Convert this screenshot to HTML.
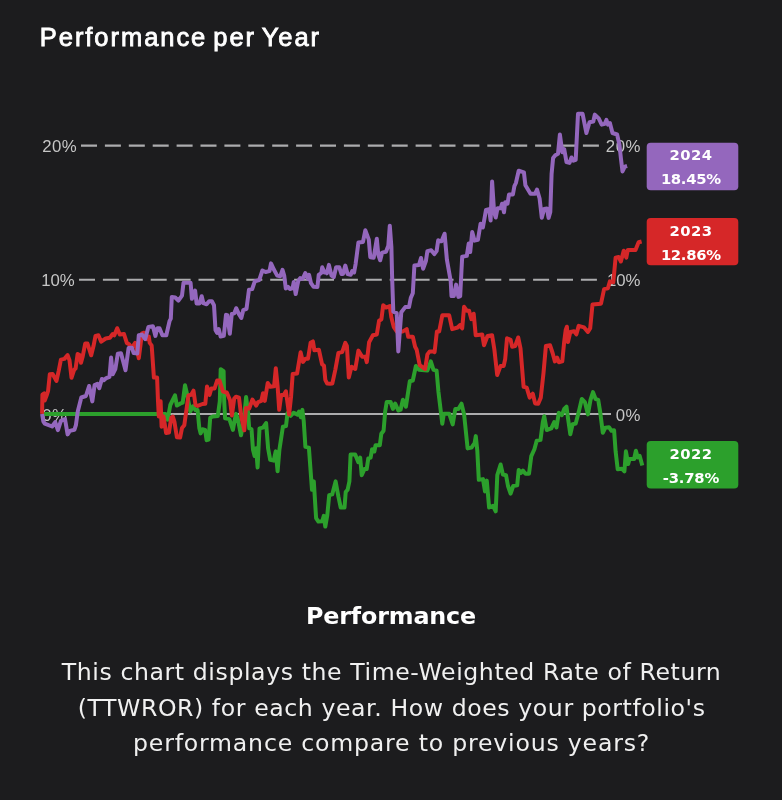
<!DOCTYPE html>
<html><head><meta charset="utf-8">
<style>
html,body{margin:0;padding:0;background:#1c1c1e;}
body{width:782px;height:800px;overflow:hidden;position:relative;font-family:"Liberation Sans",sans-serif;color:#fff;}
#title{position:absolute;left:39.8px;top:22px;font-size:25.5px;line-height:30px;font-weight:normal;-webkit-text-stroke:0.85px #fff;letter-spacing:1.95px;word-spacing:-2.9px;white-space:nowrap;}
#chart{position:absolute;left:0;top:0;}
#h2{position:absolute;left:0;width:782px;top:601.4px;text-align:center;font-size:23.8px;line-height:30px;font-weight:bold;font-family:"DejaVu Sans","Liberation Sans",sans-serif;letter-spacing:-0.15px;}
#desc{position:absolute;left:0.6px;width:782px;top:653.9px;text-align:center;font-size:23.6px;line-height:35.5px;color:#f0f0f0;letter-spacing:0.33px;font-family:"DejaVu Sans","Liberation Sans",sans-serif;}
#desc div{position:absolute;left:0;width:782px;white-space:nowrap;}
</style></head><body>
<svg id="chart" width="782" height="800" viewBox="0 0 782 800" font-family="Liberation Sans, sans-serif">
<g stroke="#acacae" stroke-width="2.1" fill="none">
<line x1="81" y1="145.6" x2="601" y2="145.6" stroke-dasharray="16 7.9"/>
<line x1="79" y1="279.8" x2="601" y2="279.8" stroke-dasharray="16 7.9"/>
<line x1="42" y1="414" x2="611" y2="414" stroke-width="2"/>
</g>
<g fill="#c6c6c6" font-size="16.8" letter-spacing="0.45">
<text x="42.3" y="152">20%</text>
<text x="41.3" y="286.2" letter-spacing="-0.1">10%</text>
<text x="42.3" y="420.5">0%</text>
<g text-anchor="end">
<text x="640.8" y="152">20%</text>
<text x="640.4" y="286.2" letter-spacing="-0.1">10%</text>
<text x="640.8" y="420.5">0%</text>
</g>
</g>
<!--LINES--><g fill="none" stroke-width="4" stroke-linejoin="round" stroke-linecap="butt">
<path stroke="#2ca02c" d="M42,414 L157.1,413.9 L165.4,413.9 L167.7,419.7 L170.3,405 L175,395.4 L176.9,405.6 L180.1,403.7 L182.7,402.7 L185,385.2 L187.2,394.8 L190.3,411.4 L192.9,406.3 L195.5,410.1 L197.6,410.1 L199.3,428 L200.6,433.4 L202.5,429.3 L205.1,429.9 L206.6,440.2 L208.6,439.5 L210.2,417.8 L212.7,416.5 L217.8,415.9 L219.8,401.2 L220.7,369.2 L223.6,371.1 L224.2,401.2 L225.1,418.4 L229.4,419.1 L232.9,429.9 L235.1,417.8 L236,413.9 L237.7,418.4 L241,435.3 L243.8,420.7 L246.1,396.9 L248.1,413 L249.2,428.4 L251.5,429.1 L253,449.8 L254.6,456 L256.1,448.3 L257.6,467.5 L259.5,428.4 L263,427.6 L266.1,423 L268.1,448.3 L270.2,459.8 L273.7,460.6 L275.7,451.4 L277.6,471.3 L279.4,449.8 L282.9,426.8 L286,426.1 L287.5,413 L290.6,415.8 L293.7,412.7 L297.5,414.6 L299.1,411.5 L300.9,417.3 L302.4,409.9 L303.7,420.7 L305.4,446.9 L308.9,447.6 L312,489.8 L313.8,481.4 L316.1,518.2 L318.4,521.6 L322.2,521.3 L323.8,515.9 L325.3,526.6 L327.3,515.1 L329.2,495.2 L332.2,494.4 L335.6,481.4 L338.4,496.7 L340.7,507.5 L344.5,507.5 L345.7,492.1 L347.6,489.8 L349.4,481.4 L350.6,454.5 L355.2,454.5 L358.3,462.2 L360.2,457.6 L361.7,475.2 L364.4,469.1 L366.7,469.1 L368.3,458.4 L370.6,457.6 L372.1,449.2 L374.4,451.5 L375.5,445.3 L379.8,445.3 L381.3,433.8 L383.6,430.7 L385.2,411.2 L386.7,402 L390.6,402 L392.9,408.9 L395.2,403.5 L398.3,410.5 L400.6,409.7 L402.9,399.7 L405.9,406.6 L409.8,381.3 L412.8,380.5 L415.9,366 L419,369.8 L427.4,370.6 L430.8,361.4 L433.5,369.8 L436.6,370.6 L438.4,391.4 L442.3,423.7 L443.8,413.7 L449.2,413.7 L452.7,424.4 L455.3,409.1 L458.4,409.1 L461.5,403.7 L464.1,414.4 L467.6,448.4 L471.5,447.6 L474.6,443 L475.8,436.1 L477.3,450.7 L478.8,479.8 L483,479.1 L485,491.4 L486.8,480.6 L489.1,507.5 L493,505.9 L495.7,511.3 L497.3,475.2 L500.6,464.5 L502.9,474.5 L506,475.2 L508,486 L510.6,493.7 L513.2,486 L517.2,485.2 L518.7,469.9 L520.9,472.9 L522.9,470.6 L525.5,473.7 L529,473.7 L531.3,456.1 L534.4,449.2 L536.7,440.7 L540.5,439.9 L542.8,422.3 L544.2,416.2 L546.7,430 L551.3,428.4 L554.2,422 L556.5,427.4 L558.8,412.8 L561.9,415.1 L564.2,409 L566.5,406.7 L568,418.2 L570.3,434.3 L572.6,424.3 L575.7,423.6 L578.7,412.1 L581.8,399 L584.9,402.1 L587.9,414.4 L590.5,399.8 L593,392.1 L595.6,399 L598.2,399.8 L600.2,412.1 L602.8,432.8 L605.4,427.7 L609,427.2 L611.5,430.8 L614.1,430.3 L615.6,451.3 L617.7,469.2 L621.8,468.7 L624.4,471.3 L625.9,451.3 L628.2,464.1 L629.5,459 L634.1,459 L635.9,450.8 L637.7,457.4 L639.7,455.9 L642.3,465.6"/>
<path stroke="#d62728" d="M42.1,413.9 L42.4,394.7 L44.2,393.4 L44.7,400.5 L46.9,394.7 L48.1,390.9 L49.8,374.3 L52.6,374 L56.5,380.9 L58.8,370.4 L60.9,359.6 L64.4,358.9 L67.6,355.1 L69.5,360.2 L71.5,377.8 L74.1,369.8 L75.6,368.5 L77.6,354.1 L79.5,355.1 L81,362.8 L82.7,356.4 L85.2,343.6 L87.5,343.6 L91.2,355.3 L93.5,346.1 L95.5,335.9 L98.4,335.3 L101.2,341.7 L105.7,338.5 L109.9,337.8 L112.7,334 L114.3,335.3 L117.2,328.2 L119.8,334.6 L124,334 L126.8,342.9 L129.1,344.2 L131.7,348.1 L135.1,342.9 L138.8,358.2 L142,333.3 L143.9,332.7 L146.5,339.1 L148.8,336.5 L149.7,342.9 L151.6,345.4 L152,350 L153.9,377.5 L157.1,377.5 L158,401.2 L158.8,416.5 L160.6,401.2 L161.6,426.7 L163.5,416.5 L166.1,432.9 L169,432.5 L171.2,417.8 L172.8,416.5 L174.4,421.6 L176.9,437.2 L180.1,437.6 L182,428 L184.3,425.2 L188.4,395.4 L191.2,394.8 L193.5,390.7 L195.5,405 L197.6,405.9 L202.5,404 L205.3,403.7 L207,386.4 L209.5,395 L211.4,388.4 L214.6,388.4 L217.2,380.4 L219.4,380.4 L223,391.6 L226.8,392.5 L230,400.1 L231.9,415.5 L234.2,398.6 L236,396.7 L239,397.7 L241.3,416.8 L244.3,430.3 L246,407.9 L249.2,408.5 L252.4,399.6 L256.2,405.6 L258.1,402.1 L261.3,400.9 L263,393.2 L264.8,400.9 L267.7,383 L270.3,386.8 L274.1,386.2 L275.8,368.2 L277.6,386.2 L279.2,409.8 L281.2,395.1 L283.7,395.1 L285.9,391.3 L289.1,414.5 L291.1,396.4 L292.7,374 L297.1,373.4 L300.6,352.3 L302.9,361.9 L305.4,358.7 L308,358.7 L310.6,342.7 L312.9,341.4 L314.4,350.3 L318.9,349.7 L322.1,364.4 L324,365.7 L325.3,379.8 L327.2,383.6 L330,383.8 L332.3,383.6 L335.3,369.8 L338.4,352.9 L342.2,352.1 L345.3,342.9 L346.9,346 L348.8,377.5 L351.5,366.7 L355.3,369 L358.4,350.6 L362.2,356.7 L365.3,356.7 L366.8,362.1 L369.1,342.2 L372.9,335.3 L376.8,334.5 L379.1,320.7 L381.4,319.2 L383.2,305.3 L386,307.6 L389.8,306.1 L391.4,317.6 L393.7,326.8 L396.7,331.4 L402.9,331.4 L406.7,329.1 L408.2,336.8 L412.8,336.8 L415.1,346.8 L416.7,349.8 L419.7,365.2 L425.1,369 L427.4,354.4 L429.7,351.4 L434.3,351.4 L434.6,352.1 L436.9,331.4 L439.2,331.4 L442.3,315.3 L449.2,315.3 L452.2,329.1 L457.6,327.5 L459.9,325.2 L462.2,328.3 L464.1,306.8 L466.8,310.7 L469.1,310.7 L471.4,319.1 L473.7,313.7 L475.7,335.2 L482.2,334.4 L484,345.2 L487.5,336 L492.1,335.2 L494.4,349.8 L497.2,375.1 L500.6,365.9 L503.7,365.9 L505.2,359 L507,338.3 L510.6,339.8 L512.1,346.7 L515.2,346 L518.2,337.5 L520.5,348.3 L523.6,386.8 L526.7,387.6 L529.7,397.6 L532.8,393.7 L535.1,403.4 L538.2,403.7 L540.8,397.6 L543.5,373 L545.9,346 L550,345.2 L552.6,353 L554.9,361.4 L557.2,357.6 L558.8,362.2 L562.3,361.4 L564.2,341.5 L565.7,330 L566.9,326.7 L568,342 L570.3,332 L574.1,331.3 L576.4,334.3 L578.7,325.9 L584.1,327.4 L587.9,332 L590.2,328.2 L592.5,304.4 L601,303.7 L604.1,289.1 L607.9,288.3 L609.9,281.4 L613.3,282.2 L615.6,257.6 L618.6,256.9 L620.9,261.5 L623.7,250.7 L626.3,257.6 L627.8,249.9 L635.5,249.9 L638.6,242.3 L641.6,241.5"/>
<path stroke="#9467bd" d="M42.1,414 L43.3,421.3 L44.8,423.6 L52.1,426.5 L55.2,422.1 L57.9,430.2 L60.9,420.9 L65,419 L67.6,434.4 L69.8,430.9 L74.4,429.8 L75.9,425.2 L77.8,411.3 L81.3,397.5 L85.9,396 L89.1,386 L92.3,401.4 L94.6,385.1 L97.4,383.9 L99.3,388.1 L101.9,379 L103.8,380.3 L106.3,378.1 L109.5,376.8 L111.1,357.6 L112.7,374.3 L115.3,369.2 L117.8,353.8 L121,353.2 L125.5,370.2 L128.6,348 L131.8,347.7 L133.7,353.1 L137.3,353.4 L138.8,335.2 L142,334.6 L145.2,339.1 L148.4,326.9 L152.9,326.3 L155.4,335.9 L157.3,328.2 L159.5,328.2 L162.4,335.2 L166.3,335.2 L169.5,321.2 L170.8,318.6 L171.8,296.9 L175.2,297.5 L178.4,300.7 L182,295.6 L183.5,282.8 L190.6,282.8 L191.9,298.8 L195.1,290.5 L196.6,303.5 L199.5,303.5 L201.7,296.2 L203.4,303.2 L206.6,304.3 L209.1,301.3 L211.9,301.3 L214,305.2 L215.5,330.1 L217,332.9 L218.7,329.1 L220.6,336.5 L223.8,335.9 L226,314.8 L227.3,315.2 L229.8,333.8 L231.8,313.9 L234.3,313.3 L236.2,308.2 L238.8,313.9 L241.3,318 L243.3,310.1 L246.5,308.8 L249,289.6 L252.2,289 L254.8,281.3 L259.2,280.1 L262.4,270.5 L265.6,272 L269.5,271.1 L271,263.4 L274,269.8 L277.2,275.6 L280.3,276.2 L282.5,269.8 L284.2,275.6 L285.8,288.4 L288,286.8 L289.9,289 L292.5,288.4 L293.8,282 L295.7,294.1 L298.3,280.7 L300.2,278.1 L302.7,278.8 L305.3,273 L307.8,278.8 L309.1,274.9 L311,283.2 L313.6,286.8 L317.4,287.1 L318.7,274.9 L321.3,273 L322.2,267.3 L324.5,272.4 L326,271.7 L326.9,273.3 L328.9,264.9 L331.5,275.6 L333.8,277.1 L336.1,267.2 L339.2,267.2 L341.5,274.1 L343,274.1 L345.3,265.6 L347.6,274.1 L350.7,274.8 L352.2,271 L354.1,272.5 L355.6,264.1 L358.4,242.6 L363,241.9 L365.3,230.3 L368.8,239.6 L370.3,257.2 L373.7,257.7 L376.8,238.8 L378.3,254.9 L380.2,260.3 L382.1,252.6 L386,251.8 L388.3,245.7 L389.8,225.7 L391.4,247.2 L392.1,276.4 L393.3,311.7 L396.7,313.2 L398.3,351.4 L401.3,312.2 L405.2,307.1 L409,307.1 L410.8,297.9 L412.8,293.3 L414.4,265.6 L419,264.9 L421,258 L423.1,268.7 L425.9,261 L427.4,251.1 L431.2,250.3 L434.3,254.1 L436.6,251.1 L438.2,240.3 L440,241.1 L441.5,241.3 L444.6,233.7 L446.9,259.7 L450.7,281.2 L451.5,296.1 L453.8,296.1 L456.1,284.6 L458.4,296.9 L460.2,296.1 L461.5,270 L462.2,256.7 L466.8,255.9 L468.7,243.6 L470.2,252.1 L472.2,232.1 L474.5,240.6 L477.9,239.8 L480.6,223.7 L482.9,227.5 L486,209.9 L489.1,209.1 L490.6,220.6 L492.1,181.5 L494.1,212.2 L495.7,217.5 L497.5,208.3 L500.6,208.3 L502.1,203.7 L504,212.2 L505.2,202.2 L507.5,203.7 L509,194.5 L512.9,194.5 L514.4,186.1 L515.9,183 L518.7,170.7 L523.9,172.3 L525.4,185.3 L530.5,193.8 L535.1,193.8 L537,189.5 L539.6,198.5 L541.8,217.7 L544.1,208.9 L546.9,208.4 L548.6,217.9 L550.3,212 L551.6,173.8 L553.1,158 L555.3,155.2 L558,153.7 L559.9,134.5 L562.3,152.2 L564.2,149.1 L566.5,162.1 L569.5,162.9 L571.5,157.5 L573.4,160.6 L575.7,159.8 L578,113.8 L582.6,113.8 L586.4,133 L589.5,122.2 L593.3,121.5 L594.8,114.6 L598.7,118.4 L601.7,124.6 L604.8,123.8 L606.4,119.9 L607.9,124.6 L609.9,123 L612.5,133 L617.1,134.5 L619.4,144.5 L620.9,158.3 L622.5,171.4 L624.8,166.7 L627.1,166"/>
</g><!--/LINES-->
<g font-size="14.8" font-weight="bold" fill="#fff" text-anchor="middle" font-family="DejaVu Sans, Liberation Sans, sans-serif">
<rect x="646.7" y="142.7" width="91.6" height="47.6" rx="4" fill="#9467bd"/>
<text x="691" y="160.4" letter-spacing="0.4">2024</text><text x="690.8" y="184.3" letter-spacing="-0.3">18.45%</text>
<rect x="646.7" y="217.9" width="91.6" height="47.4" rx="4" fill="#d62728"/>
<text x="691" y="235.6" letter-spacing="0.4">2023</text><text x="690.8" y="259.5" letter-spacing="-0.3">12.86%</text>
<rect x="646.7" y="441.1" width="91.6" height="47.5" rx="4" fill="#2ca02c"/>
<text x="691" y="458.6" letter-spacing="0.4">2022</text><text x="690.9" y="482.5" letter-spacing="-0.2">-3.78%</text>
</g>
</svg>
<div id="title">Performance per Year</div>
<div id="h2">Performance</div>
<div id="desc"><div style="top:0.8px;letter-spacing:0.59px">This chart displays the Time-Weighted Rate of Return</div><div style="top:37.2px;letter-spacing:0.58px">(TTWROR) for each year. How does your portfolio's</div><div style="top:72px;letter-spacing:0.8px">performance compare to previous years?</div></div>
</body></html>
